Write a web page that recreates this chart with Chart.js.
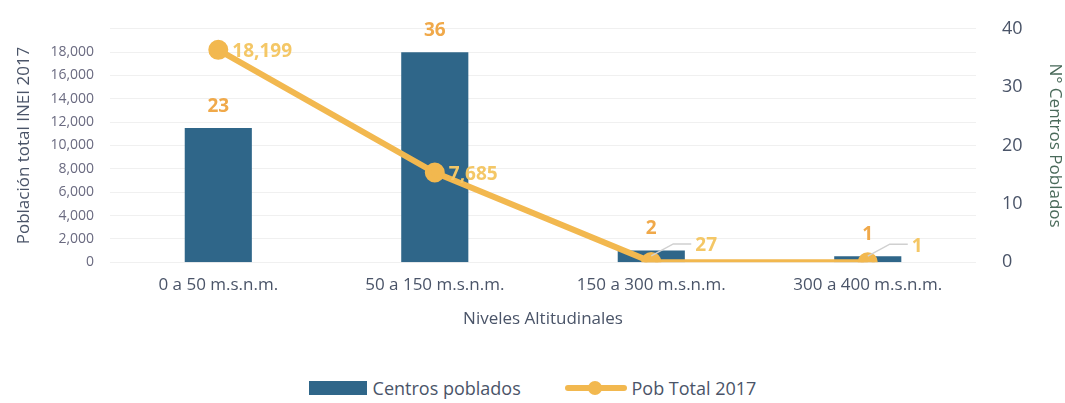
<!DOCTYPE html>
<html>
<head>
<meta charset="utf-8">
<script src="https://cdn.jsdelivr.net/npm/chart.js@4.4.0/dist/chart.umd.min.js"></script>
<style>
  body { margin: 0; background: #fff; font-family: "Open Sans", sans-serif; }
  .wrap { position: relative; width: 1065px; height: 403px; }
  .chartBox { position: absolute; left: 0; top: 0; width: 1065px; height: 333px; }
  .legend { position: absolute; left: 0; top: 374px; width: 1065px; text-align: center; font-size: 18px; color: #4a5468; }
  .legend span { display: inline-block; vertical-align: middle; }
  .sw-bar { width: 58px; height: 14px; background: #2f6689; margin-right: 6px; }
  .sw-line { position: relative; width: 62px; height: 14px; margin: 0 4px 0 40px; }
  .sw-line:before { content: ""; position: absolute; left: 0; top: 4px; width: 62px; height: 6px; background: #f2b84f; border-radius: 3px; }
  .sw-line:after { content: ""; position: absolute; left: 23px; top: 0; width: 14px; height: 14px; background: #f2b84f; border-radius: 50%; }
</style>
</head>
<body>
<div class="wrap">
  <div class="chartBox"><canvas id="myChart"></canvas></div>
  <div class="legend">
    <span class="sw-bar"></span><span>Centros poblados</span>
    <span class="sw-line"></span><span>Pob Total 2017</span>
  </div>
</div>
<script>
let labels = ['0 a 50 m.s.n.m.', '50 a 150 m.s.n.m.', '150 a 300 m.s.n.m.', '300 a 400 m.s.n.m.']
let centrosPoblados = [23, 36, 2, 1]
let pobTotal = [18199, 7685, 27, 1]

// etiquetas de valores
const valueLabels = {
  id: 'valueLabels',
  afterDatasetsDraw(chart) {
    const ctx = chart.ctx
    ctx.save()
    ctx.font = 'bold 19px "Open Sans", sans-serif'
    ctx.textAlign = 'center'
    ctx.textBaseline = 'bottom'
    ctx.fillStyle = '#f0a94a'
    chart.getDatasetMeta(1).data.forEach((bar, i) => {
      ctx.fillText(centrosPoblados[i], bar.x, bar.y - 12)
    })
    ctx.fillStyle = '#f4c766'
    ctx.textAlign = 'left'
    ctx.textBaseline = 'middle'
    chart.getDatasetMeta(0).data.forEach((pt, i) => {
      let txt = pobTotal[i].toLocaleString('en-US')
      if (pobTotal[i] < 1000) {
        ctx.strokeStyle = '#d0d0d0'
        ctx.lineWidth = 1.5
        ctx.beginPath()
        ctx.moveTo(pt.x, pt.y - 6)
        ctx.lineTo(pt.x + 22, pt.y - 18)
        ctx.lineTo(pt.x + 40, pt.y - 18)
        ctx.stroke()
        ctx.fillText(txt, pt.x + 44, pt.y - 16)
      } else {
        ctx.fillText(txt, pt.x + 14, pt.y + 2)
      }
    })
    ctx.restore()
  }
}

let ctx = document.getElementById('myChart').getContext('2d')
new Chart(ctx, {
  data: {
    labels: labels,
    datasets: [
      {
        type: 'line',
        label: 'Pob Total 2017',
        data: pobTotal,
        borderColor: '#f2b84f',
        backgroundColor: '#f2b84f',
        borderWidth: 6,
        pointRadius: 7,
        pointHoverRadius: 7,
        yAxisID: 'y',
        order: 0
      },
      {
        type: 'bar',
        label: 'Centros poblados',
        data: centrosPoblados,
        backgroundColor: '#2f6689',
        barPercentage: 0.31,
        categoryPercentage: 1,
        yAxisID: 'y1',
        order: 1
      }
    ]
  },
  plugins: [valueLabels],
  options: {
    responsive: true,
    maintainAspectRatio: false,
    animation: false,
    layout: { padding: { top: 2, left: 10, right: 0, bottom: 0 } },
    plugins: {
      legend: { display: false },
      tooltip: { enabled: false }
    },
    scales: {
      x: {
        grid: { display: false },
        border: { display: false },
        ticks: { color: '#4a5468', font: { family: 'Open Sans', size: 17 }, padding: 5 },
        title: { display: true, text: 'Niveles Altitudinales', color: '#4a5468', font: { family: 'Open Sans', size: 17 }, padding: { top: 8 } }
      },
      y: {
        position: 'left',
        min: 0,
        max: 20000,
        grid: { color: '#f0f0f0', drawTicks: false },
        border: { display: false },
        ticks: {
          stepSize: 2000,
          color: '#6a6a80',
          font: { family: 'Open Sans', size: 14 },
          padding: 16,
          callback: v => v >= 20000 ? '' : v.toLocaleString('en-US')
        },
        title: { display: true, text: 'Población total INEI 2017', color: '#4a5468', font: { family: 'Open Sans', size: 17 }, padding: { bottom: 0 } }
      },
      y1: {
        position: 'right',
        min: 0,
        max: 40,
        grid: { display: false },
        border: { display: false },
        ticks: { stepSize: 10, color: '#4a5468', font: { family: 'Open Sans', size: 18 }, padding: 18 },
        title: { display: true, text: 'N° Centros Poblados', color: '#4a6a5a', font: { family: 'Open Sans', size: 17 }, padding: { top: 0 } }
      }
    }
  }
})
</script>
</body>
</html>
